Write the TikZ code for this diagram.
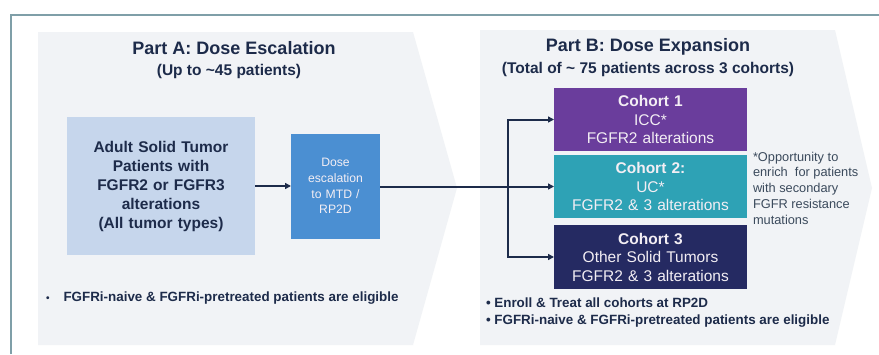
\documentclass[tikz,border=0pt]{standalone}
\usepackage{fontspec}
\setmainfont{Liberation Sans}
\usetikzlibrary{arrows.meta}
\definecolor{framecol}{HTML}{7F9FA8}
\definecolor{chev}{HTML}{F1F3F6}
\definecolor{adultcol}{HTML}{C6D6EC}
\definecolor{dosecol}{HTML}{4B8FD2}
\definecolor{cohA}{HTML}{6A3D9C}
\definecolor{cohB}{HTML}{2EA2B5}
\definecolor{cohC}{HTML}{252A62}
\definecolor{navy}{HTML}{1D2B4A}
\definecolor{notecol}{HTML}{3B4A5C}
\definecolor{lighttext}{HTML}{F3EEF4}
\tikzset{
  every node/.style={inner sep=0pt, outer sep=0pt},
  titletext/.style={text=navy, font=\fontsize{18}{21}\selectfont\bfseries},
  subtext/.style={text=navy, font=\fontsize{15.5}{18}\selectfont\bfseries},
  bullettext/.style={text=navy, font=\fontsize{13.4}{17}\selectfont\bfseries, align=left},
  cohortbox/.style={minimum width=193pt, text width=193pt, align=center, text=lighttext, font=\fontsize{15.5}{18.5}\selectfont},
  conn/.style={draw=navy, line width=2pt, -{Triangle[length=6pt,width=6pt]}},
}
\begin{document}
\begin{tikzpicture}[x=1pt,y=-1pt]
\useasboundingbox (0,0) rectangle (879,354);
\fill[white] (0,0) rectangle (879,354);
% frame
\draw[framecol, line width=2pt] (11,354) -- (11,15) -- (879,15);
% chevrons
\fill[chev] (38,32) -- (413,32) -- (457,188) -- (413,345) -- (38,345) -- cycle;
\fill[chev] (480,30) -- (835,30) -- (872,188) -- (835,345) -- (480,345) -- cycle;
% titles
\node[titletext] (tA) at (234,48) {Part A: Dose Escalation};
\node[subtext] (sA) at (229,71) {(Up to \textasciitilde45 patients)};
\node[titletext] (tB) at (648,47) {Part B: Dose Expansion};
\node[subtext] (sB) at (648,69) {(Total of \textasciitilde{} 75 patients across 3 cohorts)};
% part A boxes
\node[fill=adultcol, minimum width=188pt, minimum height=138pt, text width=188pt, align=center,
      text=navy, font=\fontsize{15.5}{19}\selectfont\bfseries] (adult) at (161,186)
  {\raisebox{-3pt}{\parbox{188pt}{\centering Adult Solid Tumor\\Patients with\\FGFR2 or FGFR3\\alterations\\(All tumor types)}}};
\node[fill=dosecol, minimum width=89pt, minimum height=105pt, text width=89pt, align=center,
      text=lighttext, font=\fontsize{12.2}{15.6}\selectfont] (dose) at (335.5,186)
  {Dose\\escalation\\to MTD /\\RP2D};
% cohorts
\node[cohortbox, fill=cohA, minimum height=63pt] (c1) at (650.5,119.5)
  {\textbf{Cohort 1}\\ICC*\\FGFR2 alterations};
\node[cohortbox, fill=cohB, minimum height=63pt] (c2) at (650.5,186.5)
  {\textbf{Cohort 2:}\\UC*\\FGFR2 \& 3 alterations};
\node[cohortbox, fill=cohC, minimum height=64pt] (c3) at (650.5,257)
  {\textbf{Cohort 3}\\Other Solid Tumors\\FGFR2 \& 3 alterations};
% connectors
\draw[conn] (adult.east) -- (dose.west);
\coordinate (br) at (508,186.5);
\draw[conn] (dose.east |- c2.west) -- (c2.west);
\draw[conn] (br) |- (c1.west);
\draw[conn] (br) |- (c3.west);
% footnote
\node[anchor=north west, align=left, text=notecol, font=\fontsize{12.8}{15.7}\selectfont] (note) at (753,152)
  {*Opportunity to\\enrich\ \ for patients\\with secondary\\FGFR resistance\\mutations};
% bullets
\node[bullettext, anchor=west] (bA) at (46,298) {{\fontsize{10}{12}\selectfont\textbullet}\hspace{14pt}FGFRi-naive \& FGFRi-pretreated patients are eligible};
\node[bullettext, anchor=north west] (bB) at (486,298)
  {\textbullet\ Enroll \& Treat all cohorts at RP2D\\\textbullet\ FGFRi-naive \& FGFRi-pretreated patients are eligible};
\end{tikzpicture}
\end{document}
